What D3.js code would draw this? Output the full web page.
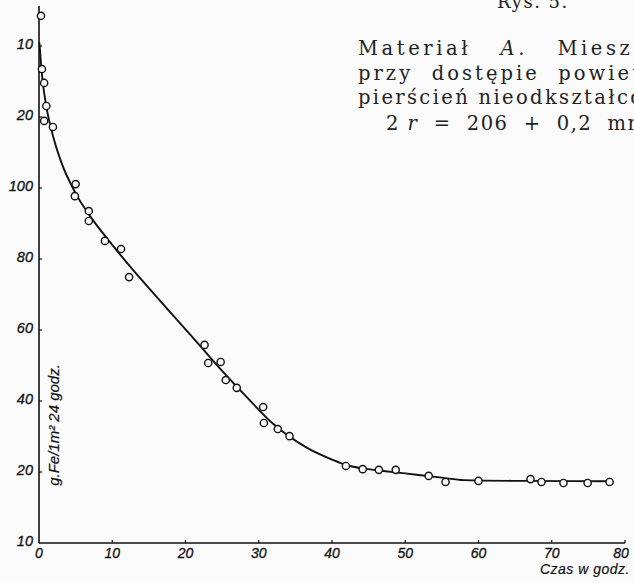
<!DOCTYPE html>
<html><head><meta charset="utf-8">
<script src="https://cdn.jsdelivr.net/npm/d3@7"></script>
<style>html,body{margin:0;padding:0;background:#fbfbfb;overflow:hidden}</style>
</head><body>
<script>
// Data
const xTicks = [0,10,20,30,40,50,60,70,80];
const xTickLabels = ["0","10","20","30","40","50","60","70","80"];
const yTicks = [140,120,100,80,60,40,20,0];
const yTickLabels = ["10","20","100","80","60","40","20","10"];

const pointX = [0.27,0.4,0.7,1.0,0.7,1.9,5.0,4.9,6.8,6.8,9.0,11.2,12.3,22.6,23.1,24.8,25.5,27.0,30.6,30.7,32.6,34.2,41.9,44.2,46.4,48.7,53.2,55.5,60.0,67.1,68.6,71.6,74.9,77.9];
const pointY = [148.5,133.5,129.6,123.1,118.9,117.2,101.1,97.7,93.5,90.7,85.1,82.8,74.9,55.8,50.7,51.0,45.9,43.7,38.3,33.8,32.1,30.1,21.7,20.8,20.6,20.6,18.9,17.2,17.5,18.0,17.2,16.9,16.9,17.2];

const curveX = [0.05,0.5,1,2,3,5,7,10,13,16,19,22,25,28.4,32,36.6,40,42,45,50,55,58,65,78];
const curveY = [141,130,123,114,107.5,98.5,92,84,76.5,69.5,62.5,55.5,48.5,41,33.5,26.8,23.5,21.9,20.8,19.6,18.4,17.7,17.5,17.4];

// header text lines
const headerLines = ["Materiał   A.   Miesza","przy  dostępie  powiet","pierścień nieodkształco"];

const W = 634, H = 583;
const svg = d3.select("body").append("svg").attr("width",W).attr("height",H)
  .style("background","#fbfbfb");

const x = d3.scaleLinear().domain([0,80]).range([39,625]);
const y = d3.scaleLinear().domain([0,140]).range([543,46]);

const ink = "#111";
const tickFont = "'Liberation Sans', Arial, sans-serif";

// axes lines
svg.append("line").attr("x1",x(0)).attr("x2",x(0)).attr("y1",6).attr("y2",y(0))
  .attr("stroke",ink).attr("stroke-width",1.6);
svg.append("line").attr("x1",x(0)).attr("x2",x(80)).attr("y1",y(0)).attr("y2",y(0))
  .attr("stroke",ink).attr("stroke-width",1.4);

// x ticks
const xg = svg.append("g");
xTicks.forEach((t,i)=>{
  if(i>0) xg.append("line").attr("x1",x(t)).attr("x2",x(t)).attr("y1",y(0)).attr("y2",y(0)-3)
    .attr("stroke",ink).attr("stroke-width",1.2);
  xg.append("text").attr("x",x(t)-(t===80?4:0)).attr("y",y(0)+15).attr("text-anchor","middle")
    .attr("font-family",tickFont).attr("font-style","italic").attr("font-size",14)
    .attr("fill",ink).attr("stroke",ink).attr("stroke-width",0.3).text(xTickLabels[i]);
});

// y ticks
const yg = svg.append("g");
yTicks.forEach((t,i)=>{
  if(t>0) yg.append("line").attr("x1",x(0)).attr("x2",x(0)+3).attr("y1",y(t)).attr("y2",y(t))
    .attr("stroke",ink).attr("stroke-width",1.2);
  yg.append("text").attr("x",x(0)-6).attr("y",y(t)+3).attr("text-anchor","end")
    .attr("font-family",tickFont).attr("font-style","italic").attr("font-size",14.5)
    .attr("fill",ink).attr("stroke",ink).attr("stroke-width",0.3).text(yTickLabels[i]);
});

// curve
const curveData = curveX.map((d,i)=>[d,curveY[i]]);
svg.append("path").datum(curveData)
  .attr("d", d3.line().x(d=>x(d[0])).y(d=>y(d[1])).curve(d3.curveMonotoneX))
  .attr("fill","none").attr("stroke",ink).attr("stroke-width",1.9);

// points
const pts = pointX.map((d,i)=>[d,pointY[i]]);
svg.append("g").selectAll("circle").data(pts).join("circle")
  .attr("cx",d=>x(d[0])).attr("cy",d=>y(d[1])).attr("r",3.6)
  .attr("fill","#fbfbfb").attr("stroke",ink).attr("stroke-width",1.4);

// axis titles
svg.append("text").attr("transform",`translate(59,425) rotate(-90)`)
  .attr("text-anchor","middle").attr("font-family",tickFont).attr("font-style","italic")
  .attr("font-size",15).attr("fill",ink).attr("stroke",ink).attr("stroke-width",0.2)
  .text("g.Fe/1m² 24 godz.");
svg.append("text").attr("x",630).attr("y",574).attr("text-anchor","end")
  .attr("font-family",tickFont).attr("font-style","italic").attr("letter-spacing",0.5)
  .attr("font-size",14).attr("fill",ink).attr("stroke",ink).attr("stroke-width",0.2)
  .text("Czas w godz.");

// header text
const serif = "'DejaVu Serif', 'Liberation Serif', serif";
svg.append("text").attr("x",497).attr("y",8).attr("font-family",serif).attr("font-size",18)
  .attr("fill","#222").attr("letter-spacing",1.5).text("Rys. 5.");
const lineEnd = [645,640,642];
headerLines.forEach((s,i)=>{
  const t = svg.append("text").attr("x",358).attr("y",55+i*24.5).attr("font-family",serif)
    .attr("font-size",19.5).attr("fill","#222").style("white-space","pre")
    .attr("textLength",lineEnd[i]-358).attr("lengthAdjust","spacing");
  if(i===0){
    t.append("tspan").text("Materiał   ");
    t.append("tspan").attr("font-style","italic").text("A.");
    t.append("tspan").text("   Miesza");
  } else t.text(s);
});
const l4 = svg.append("text").attr("x",386).attr("y",130).attr("font-family",serif)
  .attr("font-size",19.5).attr("fill","#222").style("white-space","pre")
  .attr("textLength",260).attr("lengthAdjust","spacing");
l4.append("tspan").text("2 ");
l4.append("tspan").attr("font-style","italic").text("r");
l4.append("tspan").text("  =  206  +  0,2  mm");
</script>
</body></html>
